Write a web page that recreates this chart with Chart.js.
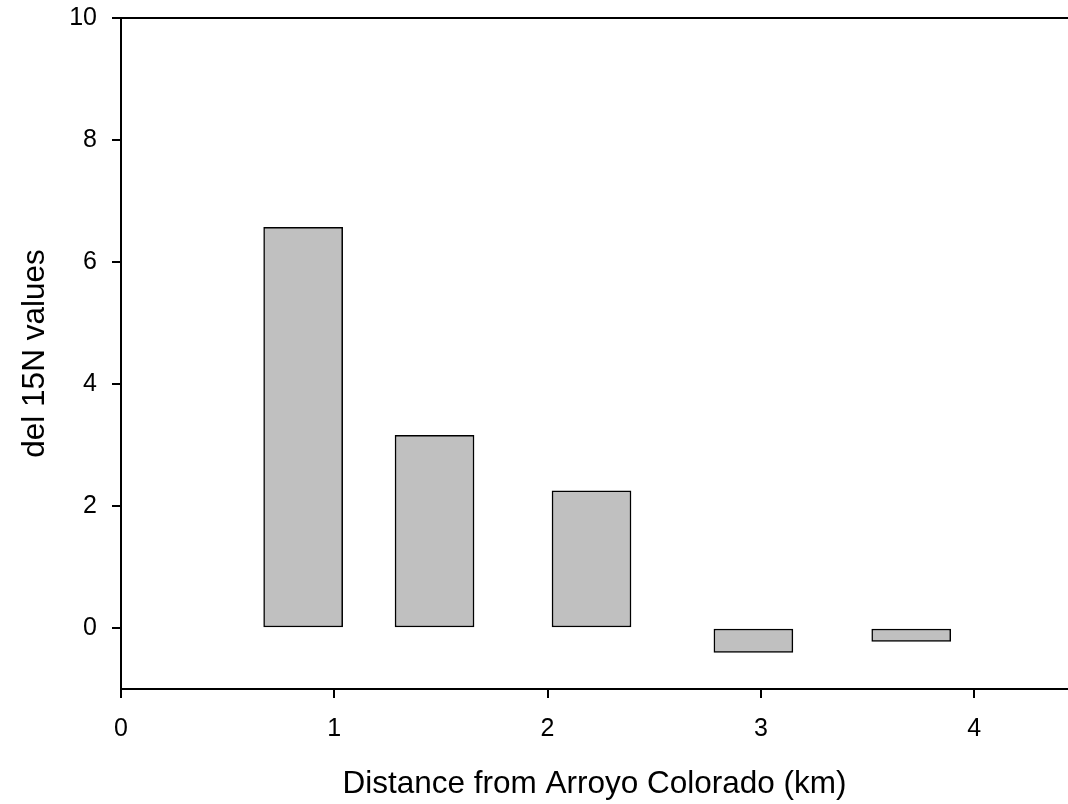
<!DOCTYPE html>
<html>
<head>
<meta charset="utf-8">
<script src="https://cdn.jsdelivr.net/npm/chart.js@4/dist/chart.umd.min.js"></script>
<style>
  html, body { margin: 0; padding: 0; background: #fff; }
  #wrap { width: 1068px; height: 804px; }
</style>
</head>
<body>
<div id="wrap"><canvas id="chart"></canvas></div>
<script>
// distance (km) of each bar centre and its del 15N value
const distances = [0.854, 1.47, 2.206, 2.965, 3.705];
const del15N = [6.57, 3.16, 2.25, -0.40, -0.22];

const xTicks = [0, 1, 2, 3, 4];
const yTicks = [0, 2, 4, 6, 8, 10];

const font = 'Liberation Sans, Arial, sans-serif';

// closes the frame along the top edge
const topLine = {
  id: 'topLine',
  afterDraw(chart) {
    const { ctx, chartArea } = chart;
    ctx.save();
    ctx.strokeStyle = '#000';
    ctx.lineWidth = 2;
    ctx.beginPath();
    ctx.moveTo(chartArea.left - 9, chartArea.top);
    ctx.lineTo(chartArea.right, chartArea.top);
    ctx.stroke();
    ctx.restore();
  },
};

new Chart(document.getElementById('chart'), {
  type: 'bar',
  data: {
    datasets: [
      {
        data: distances.map((d, i) => ({ x: d, y: del15N[i] })),
        backgroundColor: '#c0c0c0',
        borderColor: '#000',
        borderWidth: 1.5,
        borderSkipped: false,
        barThickness: 79,
      },
    ],
  },
  options: {
    responsive: true,
    maintainAspectRatio: false,
    animation: false,
    layout: { padding: { top: 18, right: 0, left: 0, bottom: 0 } },
    plugins: { legend: { display: false }, tooltip: { enabled: false } },
    scales: {
      x: {
        type: 'linear',
        offset: false,
        min: 0,
        max: 4.44,
        afterBuildTicks: (s) => { s.ticks = xTicks.map((v) => ({ value: v })); },
        afterFit: (s) => { s.height = 115; s.paddingLeft = 0; s.paddingRight = 0; },
        grid: { offset: false, drawOnChartArea: false, drawTicks: true, tickLength: 9, color: '#000', lineWidth: 2 },
        border: { display: true, color: '#000', width: 2 },
        ticks: { color: '#000', padding: 16, font: { family: font, size: 25 }, maxRotation: 0 },
        title: {
          display: true,
          text: 'Distance from Arroyo Colorado (km)',
          color: '#000',
          font: { family: font, size: 31.5 },
          padding: { top: 0, bottom: 1 },
        },
      },
      y: {
        min: -1,
        max: 10,
        afterBuildTicks: (s) => { s.ticks = yTicks.map((v) => ({ value: v })); },
        afterFit: (s) => { s.width = 121; s.paddingTop = 0; s.paddingBottom = 0; },
        grid: { drawOnChartArea: false, drawTicks: true, tickLength: 9, color: '#000', lineWidth: 2 },
        border: { display: true, color: '#000', width: 2 },
        ticks: { color: '#000', padding: 15, font: { family: font, size: 25 } },
        title: {
          display: true,
          text: 'del 15N values',
          color: '#000',
          font: { family: font, size: 31.5 },
          padding: { top: 16, bottom: 0 },
        },
      },
    },
  },
  plugins: [topLine],
});
</script>
</body>
</html>
